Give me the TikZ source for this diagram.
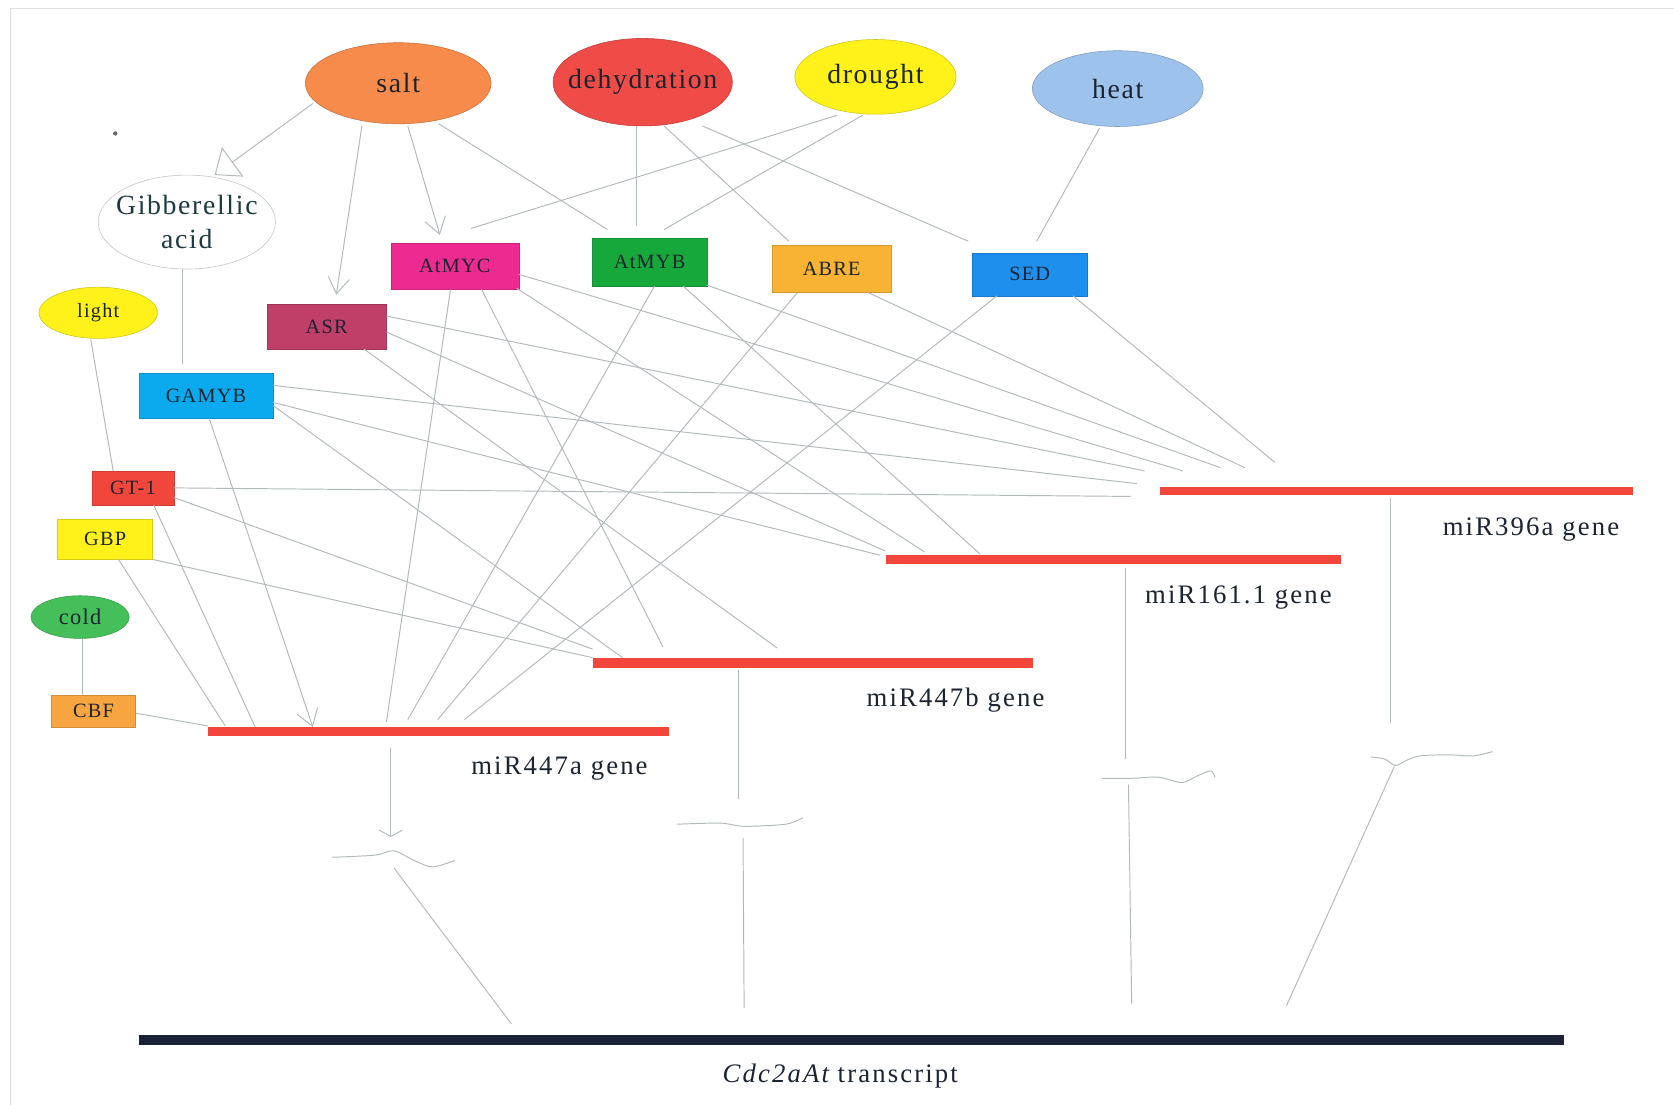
\documentclass[tikz,border=0pt]{standalone}
\usepackage{fontspec}
\setmainfont{Liberation Serif}
\newfontfamily\lsfont[LetterSpace=6]{Liberation Serif}
\newfontfamily\lgfont[LetterSpace=8]{Liberation Serif}
\usetikzlibrary{arrows.meta,shapes.geometric}
\definecolor{cSalt}{HTML}{F68B4C}
\definecolor{cDeh}{HTML}{EF4B47}
\definecolor{cYel}{HTML}{FFF21A}
\definecolor{cHeat}{HTML}{9DC2EC}
\definecolor{cCold}{HTML}{44BF5A}
\definecolor{cMyc}{HTML}{EC2A8F}
\definecolor{cMyb}{HTML}{17A83C}
\definecolor{cAbre}{HTML}{F8B334}
\definecolor{cSed}{HTML}{1E8FEC}
\definecolor{cAsr}{HTML}{BF3F69}
\definecolor{cGamyb}{HTML}{0BAAEE}
\definecolor{cGt}{HTML}{F0463C}
\definecolor{cCbf}{HTML}{F7A540}
\definecolor{cGene}{HTML}{F2453B}
\definecolor{cNavy}{HTML}{1B2238}
\definecolor{cLine}{HTML}{B2B9BC}
\definecolor{cTxt}{HTML}{1C2430}
\definecolor{cTxtGA}{HTML}{1E3A40}
\definecolor{cGAb}{HTML}{C3C9CB}
\definecolor{cFrame}{HTML}{D9DEDF}
\newcommand\fntBig{\lsfont\fontsize{26}{32}\selectfont}
\newcommand\fntBox{\lsfont\fontsize{19}{22}\selectfont}
\newcommand\fntCold{\lsfont\fontsize{21}{24}\selectfont}
\newcommand\fntGene{\lgfont\fontsize{25}{30}\selectfont}
\newcommand\nodeoff[3]{([shift={(#2,#3)}]#1.center)}
\begin{document}
\begin{tikzpicture}[x=1pt,y=-1pt,
  conn/.style={draw=cLine, line width=0.9pt},
  barb/.style={-{Straight Barb[length=15pt,width=20pt]}},
  ell/.style={ellipse, fill=#1, draw=#1!80!black, line width=0.5pt, inner xsep=-30pt, inner ysep=-12pt, text=cTxt},
  box/.style={rectangle, fill=#1, draw=#1!85!black, line width=0.4pt, inner sep=0pt, text=cTxt, font=\fntBox},
  gene/.style={rectangle, fill=cGene, inner sep=0pt, minimum height=8pt},
  glabel/.style={font=\fntGene, text=cTxt, inner sep=0pt}]
\useasboundingbox (0,0) rectangle (1568,1035);
\fill[white] (0,0) rectangle (1568,1035);
\draw[cFrame, line width=1.2pt] (10,1035) -- (10,8) -- (1568,8);
\fill[cTxt!70] (108,125) circle (2);

% stimuli
\node[ell=cSalt, minimum width=174pt, minimum height=76pt, font=\fntBig] (salt) at (373,78) {salt};
\node[ell=cDeh, minimum width=168pt, minimum height=82pt, font=\fntBig] (dehyd) at (602,77) {dehydration};
\node[ell=cYel, minimum width=151pt, minimum height=70pt, font=\fntBig] (drought) at (820,72) {drought};
\node[ell=cHeat, minimum width=160pt, minimum height=71pt, font=\fntBig] (heat) at (1047,83) {heat};
\node[ellipse, draw=cGAb, fill=white, line width=0.6pt, minimum width=166pt, minimum height=88pt, inner xsep=-40pt, inner ysep=-30pt, align=center, font=\fntBig, text=cTxtGA] (GA) at (175,208) {Gibberellic\\acid};
\node[ell=cYel, minimum width=111pt, minimum height=48pt, font=\fntBox] (light) at (92,293) {light};
\node[ell=cCold, minimum width=92pt, minimum height=40pt, font=\fntCold] (cold) at (75,578) {cold};

% factors
\node[box=cMyc, minimum width=120pt, minimum height=43pt] (AtMYC) at (426,249.5) {AtMYC};
\node[box=cMyb, minimum width=107pt, minimum height=45pt] (AtMYB) at (608.5,245.5) {AtMYB};
\node[box=cAbre, minimum width=112pt, minimum height=44pt] (ABRE) at (779,252) {ABRE};
\node[box=cSed, minimum width=107pt, minimum height=40pt] (SED) at (964.5,257) {SED};
\node[box=cAsr, minimum width=112pt, minimum height=42pt] (ASR) at (306,306) {ASR};
\node[box=cGamyb, minimum width=126pt, minimum height=42pt] (GAMYB) at (193,371) {GAMYB};
\node[box=cGt, minimum width=77pt, minimum height=32pt] (GT1) at (124.5,457) {GT-1};
\node[box=cYel, minimum width=89pt, minimum height=38pt] (GBP) at (98.5,505) {GBP};
\node[box=cCbf, minimum width=79pt, minimum height=30pt] (CBF) at (87.5,666) {CBF};

% genes
\node[gene, minimum width=443pt] (g396) at (1308.5,460) {};
\node[gene, minimum width=426pt] (g161) at (1043,524) {};
\node[gene, minimum width=413pt, minimum height=9pt] (g447b) at (761.5,621) {};
\node[gene, minimum width=432pt] (g447a) at (411,685) {};
\node[rectangle, fill=cNavy, inner sep=0pt, minimum width=1335pt, minimum height=10pt] (cdc) at (797.5,974) {};

\node[glabel] (l396) at (1434,496) {miR396a gene};
\node[glabel] (l161) at (1160,560) {miR161.1 gene};
\node[glabel] (l447b) at (895,656) {miR447b gene};
\node[glabel] (l447a) at (524,720) {miR447a gene};
\node[glabel] (lcdc) at (787,1008) {{\itshape Cdc2aAt} transcript};

% stimulus connectors
\draw[conn,-{Triangle[open,length=21pt,width=34pt]}] \nodeoff{salt}{-80}{19} -- \nodeoff{GA}{26}{-44};
\draw[conn,barb] \nodeoff{salt}{-34}{40} -- \nodeoff{ASR}{9}{-30};
\draw[conn,barb] \nodeoff{salt}{9}{40} -- \nodeoff{AtMYC}{-14}{-29.5};
\draw[conn] \nodeoff{salt}{38}{38} -- \nodeoff{AtMYB}{-39.5}{-30.5};
\draw[conn] \nodeoff{dehyd}{-6}{41} -- \nodeoff{AtMYB}{-12.5}{-33.5};
\draw[conn] \nodeoff{dehyd}{20}{41} -- \nodeoff{ABRE}{-40}{-26};
\draw[conn] \nodeoff{dehyd}{56}{41} -- \nodeoff{SED}{-57.5}{-31};
\draw[conn] \nodeoff{drought}{-36}{36} -- \nodeoff{AtMYC}{15}{-35.5};
\draw[conn] \nodeoff{drought}{-12}{36} -- \nodeoff{AtMYB}{13.5}{-30.5};
\draw[conn] \nodeoff{heat}{-17}{37} -- \nodeoff{SED}{6.5}{-31};
\draw[conn] \nodeoff{GA}{-4}{44} -- \nodeoff{GAMYB}{-22}{-30};
\draw[conn] \nodeoff{light}{-7}{25} -- \nodeoff{GT1}{-18.5}{-16};
\draw[conn] \nodeoff{cold}{2}{21} -- \nodeoff{CBF}{-10.5}{-15};

% to miR396a
\draw[conn] \nodeoff{SED}{40.5}{20} -- \nodeoff{g396}{-114.5}{-27};
\draw[conn] \nodeoff{ABRE}{34}{22} -- \nodeoff{g396}{-142.5}{-22};
\draw[conn] \nodeoff{AtMYB}{53.5}{21.5} -- \nodeoff{g396}{-165.5}{-22};
\draw[conn] \nodeoff{AtMYC}{60}{7.5} -- \nodeoff{g396}{-200.5}{-19};
\draw[conn] \nodeoff{ASR}{56}{-10} -- \nodeoff{g396}{-236.5}{-19};
\draw[conn] \nodeoff{GAMYB}{63}{-10} -- \nodeoff{g396}{-243.5}{-7};
\draw[conn] \nodeoff{GT1}{38.5}{0} -- \nodeoff{g396}{-249.5}{5};

% to miR161.1
\draw[conn] \nodeoff{GAMYB}{63}{6} -- \nodeoff{g161}{-219}{-4};
\draw[conn] \nodeoff{ASR}{56}{5} -- \nodeoff{g161}{-214}{-8};
\draw[conn] \nodeoff{AtMYC}{58}{20.5} -- \nodeoff{g161}{-177}{-7};
\draw[conn] \nodeoff{AtMYB}{31.5}{22.5} -- \nodeoff{g161}{-125}{-5};

% to miR447b
\draw[conn] \nodeoff{GT1}{38.5}{9} -- \nodeoff{g447b}{-206.5}{-13};
\draw[conn] \nodeoff{GBP}{44.5}{19} -- \nodeoff{g447b}{-206.5}{-5};
\draw[conn] \nodeoff{GAMYB}{63}{9} -- \nodeoff{g447b}{-178.5}{-5};
\draw[conn] \nodeoff{AtMYC}{25}{21.5} -- \nodeoff{g447b}{-140.5}{-15};
\draw[conn] \nodeoff{ASR}{35}{21} -- \nodeoff{g447b}{-33.5}{-14};

% to miR447a
\draw[conn] \nodeoff{CBF}{39.5}{2} -- \nodeoff{g447a}{-216}{-5};
\draw[conn] \nodeoff{GBP}{12.5}{19} -- \nodeoff{g447a}{-200}{-5};
\draw[conn] \nodeoff{GT1}{19.5}{16} -- \nodeoff{g447a}{-172}{-4};
\draw[conn,barb] \nodeoff{GAMYB}{3}{21} -- \nodeoff{g447a}{-118}{-4};
\draw[conn] \nodeoff{AtMYC}{-4}{21.5} -- \nodeoff{g447a}{-49}{-9};
\draw[conn] \nodeoff{AtMYB}{4.5}{22.5} -- \nodeoff{g447a}{-29}{-11};
\draw[conn] \nodeoff{ABRE}{-32}{22} -- \nodeoff{g447a}{-1}{-11};
\draw[conn] \nodeoff{SED}{-30.5}{20} -- \nodeoff{g447a}{24}{-11};

% transcripts binding
\coordinate (m447a) at (366,784);
\coordinate (r447a) at (369,813);
\draw[conn,-{Straight Barb[length=6pt,width=22pt]}] \nodeoff{g447a}{-45}{16} -- (m447a);
\draw[conn] plot[smooth] coordinates {(311,803) (351,801) (369,797) (388,806) (405,812) (426,806)};
\draw[conn] (r447a) -- \nodeoff{cdc}{-318.5}{-15};

\coordinate (m447b) at (692,748);
\coordinate (r447b) at (696,785);
\draw[conn] \nodeoff{g447b}{-69.5}{7} -- (m447b);
\draw[conn] plot[smooth] coordinates {(634,772) (675,771) (697,774) (736,772) (752,766)};
\draw[conn] (r447b) -- \nodeoff{cdc}{-100.5}{-30};

\coordinate (m161) at (1054,711);
\coordinate (r161) at (1057,735);
\draw[conn] \nodeoff{g161}{11}{8} -- (m161);
\draw[conn] plot[smooth] coordinates {(1032,729) (1060,729) (1085,728) (1107,733) (1121,727) (1134,722) (1138,728)};
\draw[conn] (r161) -- \nodeoff{cdc}{262.5}{-34};

\coordinate (m396) at (1302,677);
\coordinate (r396) at (1306,718);
\draw[conn] \nodeoff{g396}{-6.5}{6} -- (m396);
\draw[conn] plot[smooth] coordinates {(1284,709) (1297,711) (1307,717) (1318,712) (1330,708) (1356,707) (1380,708) (1398,704)};
\draw[conn] (r396) -- \nodeoff{cdc}{407.5}{-32};
\end{tikzpicture}
\end{document}
